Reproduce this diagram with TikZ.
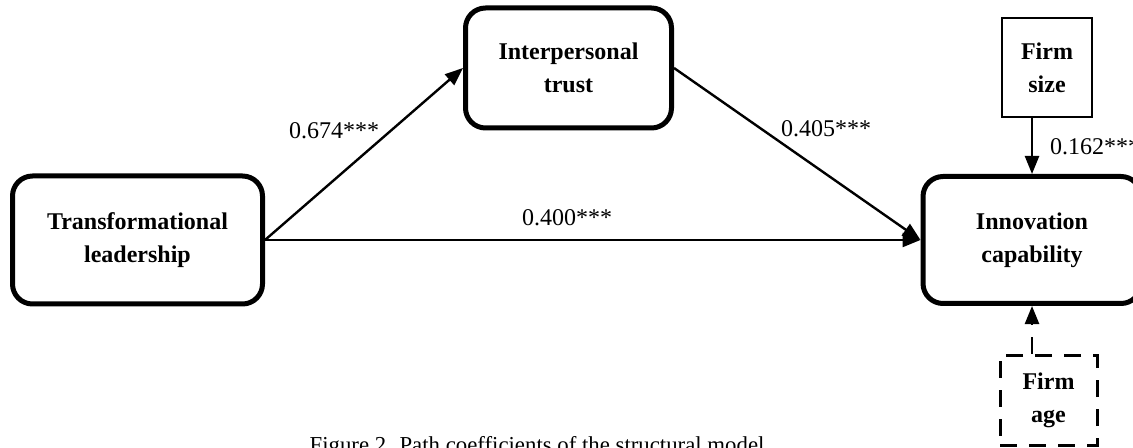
\documentclass[tikz,border=0pt]{standalone}
\usepackage{fontspec}
\setmainfont{Liberation Serif}
\usepackage{tikz}
\usetikzlibrary{arrows.meta,positioning}

\tikzset{
  construct/.style = {draw, rounded corners=10pt, line width=2.5pt, align=center,
    font=\bfseries\fontsize{12}{16.5}\selectfont},
  control/.style = {draw, line width=1pt, align=center,
    font=\bfseries\fontsize{12}{16.5}\selectfont},
  path/.style = {line width=1.2pt, -{Triangle[length=9pt,width=7pt]}},
  coef/.style = {font=\fontsize{12}{14}\selectfont}
}

\begin{document}
\begin{tikzpicture}[x=0.5pt, y=-0.5pt]
\clip (0,0) rectangle (1133,448);
\node [construct, minimum width=125pt, minimum height=64pt] (tl) at (137.5,240) {Transformational\\leadership};
\node [construct, minimum width=103pt, minimum height=60pt] (ip) at (568.5,68) {Interpersonal\\trust};
\node [construct, minimum width=109pt, minimum height=63.5pt] (ic) at (1032,240) {Innovation\\capability};
\node [control, minimum width=45pt, minimum height=49.5pt] (fs) at (1047,67.5) {Firm\\size};
\node [control, dash pattern=on 8.5pt off 6pt, line width=1.5pt, minimum width=48.5pt, minimum height=45pt] (fa) at (1048.5,400) {Firm\\age};
\draw [path] (tl.east) -- (ip.west);
\draw [path] (ip.east) -- (ic.west);
\draw [path] (tl.east) -- (ic.west);
\draw [path] (fs.south -| ic.north) -- (ic.north);
\draw [path, dash pattern=on 8.5pt off 6pt] (fa.north -| ic.south) -- (ic.south);
\node [coef] (c1) at (334,131) {0.674***};
\node [coef] (c2) at (826,129) {0.405***};
\node [coef] (c3) at (567,218) {0.400***};
\node [coef, anchor=west] (c4) at (1043,147) {0.162***};
\node [coef, font=\fontsize{11.4}{14}\selectfont, anchor=base] (cap) at (537,452) {Figure 2. Path coefficients of the structural model};
\end{tikzpicture}
\end{document}
